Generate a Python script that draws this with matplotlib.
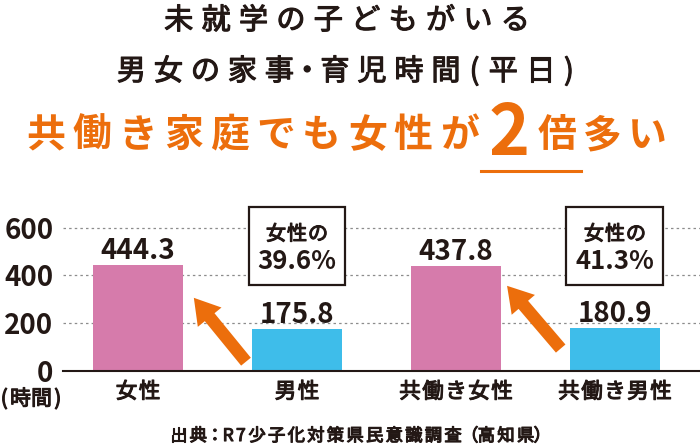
import matplotlib.pyplot as plt
import matplotlib.patheffects as pe
from matplotlib.patches import FancyArrowPatch, Rectangle

plt.rcParams['font.family'] = ['Noto Sans CJK JP', 'DejaVu Sans']

# === データ ===
categories = ["女性", "男性", "共働き女性", "共働き男性"]
hours = [444.3, 175.8, 437.8, 180.9]
bar_colors = ["#d67bab", "#3ebdea", "#d67bab", "#3ebdea"]
yticks = [0, 200, 400, 600]
ratio_pct = ["39.6%", "41.3%"]

dark = "#231815"
orange = "#ec6e0c"
W, H = 700, 444

fig = plt.figure(figsize=(W / 100, H / 100), dpi=100)
thick = [pe.withStroke(linewidth=0.8, foreground=dark)]


# 字間を空けて1文字ずつ置く (x, y はピクセル、y は上から)
def spaced(x, y, s, pitch, ha="center", **kw):
    narrow = {"・": 0.5, "(": 0.55, ")": 0.55, "：": 0.7, "（": 0.7, "）": 0.7}
    ws = [narrow.get(c, 0.65 if ord(c) < 128 else 1.0) for c in s]
    total = sum(ws) * pitch
    pos = {"left": x, "center": x - total / 2, "right": x - total}[ha]
    for c, w in zip(s, ws):
        fig.text((pos + w * pitch / 2) / W, 1 - y / H, c, ha="center",
                 va="baseline", **kw)
        pos += w * pitch


# === タイトル ===
spaced(347, 29, "未就学の子どもがいる", 37.4, fontsize=21, color=dark,
       path_effects=thick)
spaced(346, 80, "男女の家事・育児時間(平日)", 37.0, fontsize=21, color=dark,
       path_effects=thick)
spaced(23, 147, "共働き家庭でも女性が", 45.9, ha="left", fontsize=28,
       color=orange, fontweight="bold")
fig.text(509 / W, 1 - 155 / H, "2", ha="center", va="baseline",
         fontsize=50, color=orange, fontweight="bold")
spaced(534, 147, "倍多い", 45.5, ha="left", fontsize=28,
       color=orange, fontweight="bold")
fig.add_artist(plt.Line2D([481 / W, 581 / W], [1 - 171 / H] * 2,
                          color=orange, lw=2.2))

# === グラフ本体 ===
ax = fig.add_axes([63 / W, 1 - 371 / H, 637 / W, 167.4 / H])
x = list(range(len(categories)))
ax.bar(x, hours, width=0.57, color=bar_colors, zorder=2)
ax.set_xlim(-0.472, 3.535)
ax.set_ylim(0, 700)

for xi, v in zip(x, hours):
    ax.text(xi, v + 25, f"{v:.1f}", ha="center", va="baseline",
            fontsize=20, color=dark, fontweight="bold")

ax.set_yticks(yticks)
ax.set_yticklabels([str(t) for t in yticks], fontsize=20, color=dark,
                   fontweight="bold")
ax.set_xticks([])
ax.tick_params(axis="y", length=0, pad=7)
for s in ["top", "right", "left"]:
    ax.spines[s].set_visible(False)
ax.spines["bottom"].set_color(dark)
ax.spines["bottom"].set_linewidth(1.5)
ax.spines["bottom"].set_zorder(3)
for t in yticks[1:]:
    ax.axhline(t, color="#8c8c8c", lw=0.9, ls=(0, (2, 2.5)), zorder=1)

# カテゴリ名
for xi, name in zip(x, categories):
    px = ax.transData.transform((xi, 0))[0]
    spaced(px, 398, name, 23, fontsize=15.5, color=dark, path_effects=thick)
spaced(31, 405, "(時間)", 21, fontsize=15, color=dark, path_effects=thick)

# === 比率ボックス ===
for xi, pct in zip([1, 3], ratio_pct):
    ax.add_patch(Rectangle((xi - 0.305, 360), 0.61, 326, fc="white",
                           ec=dark, lw=1.6, zorder=4))
    px = ax.transData.transform((xi, 0))[0]
    spaced(px, 240, "女性の", 21, fontsize=14.5, color=dark,
           path_effects=thick, zorder=5)
    ax.text(xi, 428, pct, ha="center", va="baseline", fontsize=18.5,
            color=dark, fontweight="bold", zorder=5)

# === 矢印 ===
arrows = [((0.69, 30), (0.34, 315)), ((2.67, 85), (2.31, 365))]
for tail, tip in arrows:
    arr = FancyArrowPatch(tail, tip,
                          arrowstyle="simple,head_length=1.8,head_width=2.2,tail_width=0.9",
                          mutation_scale=10, color=orange, lw=0, zorder=3)
    ax.add_patch(arr)

# === 出典 ===
spaced(359, 441, "出典：R7少子化対策県民意識調査（高知県）", 19.6,
       fontsize=12.5, color=dark, path_effects=thick)

fig.savefig("out.png", dpi=100, facecolor="white")
